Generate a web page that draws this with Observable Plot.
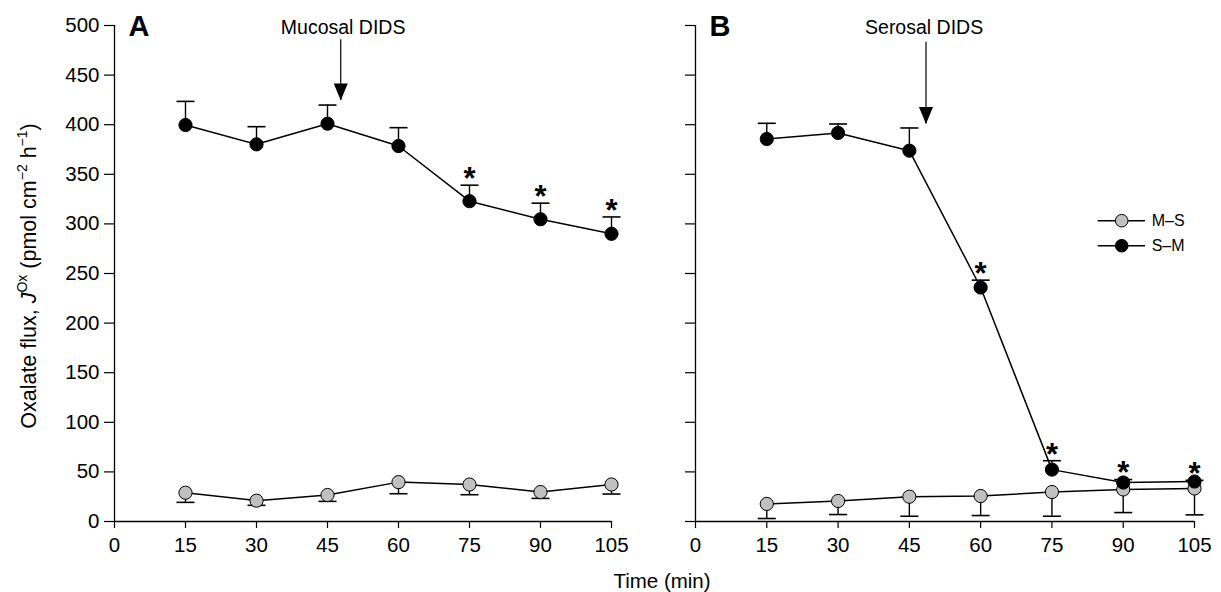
<!DOCTYPE html>
<html>
<head>
<meta charset="utf-8">
<script src="https://cdn.jsdelivr.net/npm/d3@7"></script>
<script src="https://cdn.jsdelivr.net/npm/@observablehq/plot@0.6"></script>
<style>
  html, body { margin: 0; padding: 0; background: #fff; }
  #wrap { position: relative; width: 1221px; height: 592px; overflow: hidden; font-family: Arial, "Liberation Sans", sans-serif; }
  #row { display: flex; position: absolute; left: 0; top: 0; }
  #overlay { position: absolute; left: 0; top: 0; pointer-events: none; }
</style>
</head>
<body>
<div id="wrap">
  <div id="row"></div>
  <svg id="overlay" width="1221" height="592" font-family="Arial, 'Liberation Sans', sans-serif"></svg>
</div>
<script>
// ---- data ----
const times = [15, 30, 45, 60, 75, 90, 105];
const xTicks = [0, 15, 30, 45, 60, 75, 90, 105];
const yTicks = [0, 50, 100, 150, 200, 250, 300, 350, 400, 450, 500];
const seriesNames = ["M–S", "S–M"];

// Panel A
const aSM   = [399.7, 380.2, 401.0, 378.5, 322.9, 304.7, 290.0];
const aSMhi = [423.5, 398.0, 419.8, 397.0, 339.0, 320.9, 307.0];
const aMS   = [29.0, 21.0, 26.7, 39.7, 37.3, 29.7, 37.3];
const aMSlo = [19.3, 16.3, 20.3, 28.0, 27.0, 23.3, 27.7];
const aSig  = [75, 90, 105];

// Panel B
const bSM   = [385.6, 391.7, 373.8, 235.9, 52.3, 39.3, 40.3];
const bSMhi = [401.4, 400.7, 396.7, 243.3, 61.3, 42.3, 41.5];
const bMS   = [17.7, 20.7, 25.0, 25.7, 29.7, 32.3, 33.3];
const bMSlo = [3.0, 7.0, 5.3, 6.0, 5.3, 9.0, 6.7];
const bSig  = [60, 75, 90, 105];

// Annotations
const arrowA = {x: 47.8, top: 485.6, tip: 424.5, tx: 48.3, ty: 498, label: "Mucosal DIDS"};
const arrowB = {x: 48.5, top: 483.2, tip: 400.7, tx: 48.1, ty: 498, label: "Serosal DIDS"};

const FONT = "Arial, 'Liberation Sans', sans-serif";
const GRAY = "#c0c0c0";

// custom symbols
const capSymbol = { draw(ctx) { ctx.moveTo(-9, 0); ctx.lineTo(9, 0); } };
const triSymbol = { draw(ctx) { ctx.moveTo(-7, -17); ctx.lineTo(7, -17); ctx.lineTo(0, 0); ctx.closePath(); } };

function panel({sm, smHi, ms, msLo, sig, arrow, letter, yLabels, width, ml, mr}) {
  const smData = times.map((t, i) => ({t, v: sm[i], e: smHi[i]}));
  const msData = times.map((t, i) => ({t, v: ms[i], e: msLo[i]}));
  const sigData = smData.filter(d => sig.includes(d.t));
  return Plot.plot({
    width, height: 592,
    marginLeft: ml, marginRight: mr, marginTop: 25, marginBottom: 71,
    x: {domain: [0, 105]},
    y: {domain: [0, 500]},
    style: {fontFamily: FONT, fontSize: "20.5px", color: "black", background: "transparent", overflow: "visible"},
    marks: [
      Plot.axisX({ticks: xTicks, tickSize: 7, tickPadding: 9, label: null, fontSize: 20.5, strokeWidth: 1.2}),
      Plot.axisY({ticks: yTicks, tickSize: 10, tickPadding: 5, label: null, fontSize: 20.5, strokeWidth: 1.2,
                  tickFormat: yLabels ? (d => String(d)) : (() => "")}),
      Plot.ruleY([0], {stroke: "black", strokeWidth: 1.3}),
      Plot.ruleX([0], {stroke: "black", strokeWidth: 1.3}),
      // M–S error bars (downwards)
      Plot.ruleX(msData, {x: "t", y1: "v", y2: "e", stroke: "black", strokeWidth: 1.4}),
      Plot.dot(msData, {x: "t", y: "e", symbol: capSymbol, fill: "none", stroke: "black", strokeWidth: 1.6}),
      // S–M error bars (upwards)
      Plot.ruleX(smData, {x: "t", y1: "v", y2: "e", stroke: "black", strokeWidth: 1.4}),
      Plot.dot(smData, {x: "t", y: "e", symbol: capSymbol, fill: "none", stroke: "black", strokeWidth: 1.6}),
      // lines & points
      Plot.line(msData, {x: "t", y: "v", stroke: "black", strokeWidth: 1.5}),
      Plot.dot(msData, {x: "t", y: "v", r: 6.6, fill: GRAY, stroke: "black", strokeWidth: 1}),
      Plot.line(smData, {x: "t", y: "v", stroke: "black", strokeWidth: 1.5}),
      Plot.dot(smData, {x: "t", y: "v", r: 6.6, fill: "black", stroke: "black", strokeWidth: 1}),
      // significance asterisks
      Plot.text(sigData, {x: "t", y: "e", text: () => "*", dy: -6, fontSize: 31, fontWeight: "bold", fill: "black"}),
      // DIDS arrow
      Plot.ruleX([arrow], {x: "x", y1: "top", y2: "tip", stroke: "black", strokeWidth: 1.2}),
      Plot.dot([arrow], {x: "x", y: "tip", symbol: triSymbol, fill: "black", stroke: "none"}),
      Plot.text([arrow], {x: "tx", y: "ty", text: "label", fontSize: 19.5, fill: "black"}),
      // panel letter
      Plot.text([letter], {frameAnchor: "top-left", dx: 14, dy: -10, lineAnchor: "top", textAnchor: "start",
                           fontSize: 29, fontWeight: "bold", fill: "black"})
    ]
  });
}

const row = document.getElementById("row");
row.append(panel({sm: aSM, smHi: aSMhi, ms: aMS, msLo: aMSlo, sig: aSig, arrow: arrowA, letter: "A",
                  yLabels: true, width: 660, ml: 114, mr: 49}));
row.append(panel({sm: bSM, smHi: bSMhi, ms: bMS, msLo: bMSlo, sig: bSig, arrow: arrowB, letter: "B",
                  yLabels: false, width: 561, ml: 35, mr: 27}));

// ---- overlay: axis titles and legend ----
const ov = d3.select("#overlay");
ov.append("text").attr("x", 662).attr("y", 588).attr("text-anchor", "middle")
  .attr("font-size", 20.5).text("Time (min)");

const yl = ov.append("text").attr("transform", "translate(36,276) rotate(-90)")
  .attr("text-anchor", "middle").attr("font-size", 21.5);
yl.append("tspan").text("Oxalate flux, ");
yl.append("tspan").attr("font-style", "italic").text("J");
yl.append("tspan").attr("font-size", 14).attr("dy", -9).text("Ox");
yl.append("tspan").attr("dy", 9).text(" (pmol cm");
yl.append("tspan").attr("font-size", 14).attr("dy", -9).text("−2");
yl.append("tspan").attr("dy", 9).text(" h");
yl.append("tspan").attr("font-size", 14).attr("dy", -9).text("−1");
yl.append("tspan").attr("dy", 9).text(")");

const legFill = [GRAY, "black"];
seriesNames.forEach((name, i) => {
  const y = 220.7 + i * 25;
  const g = ov.append("g");
  g.append("line").attr("x1", 1097.7).attr("x2", 1145).attr("y1", y).attr("y2", y)
    .attr("stroke", "black").attr("stroke-width", 1.5);
  g.append("circle").attr("cx", 1121.7).attr("cy", y).attr("r", 6.3)
    .attr("fill", legFill[i]).attr("stroke", "black");
  g.append("text").attr("x", 1151.7).attr("y", y).attr("dy", "0.35em")
    .attr("font-size", 16).text(name);
});
</script>
</body>
</html>
